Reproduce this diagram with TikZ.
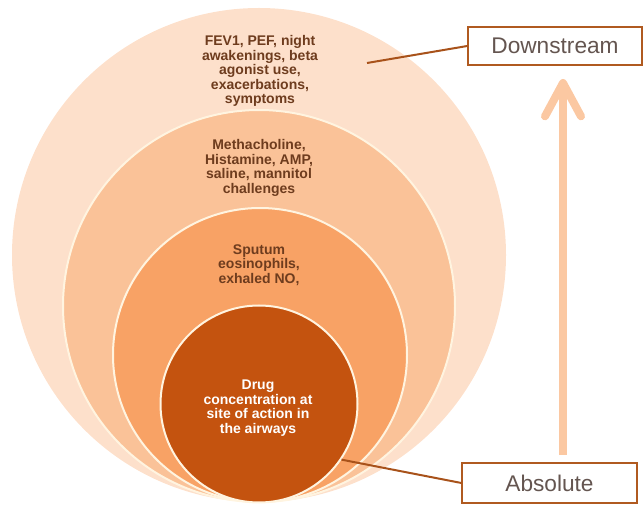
\documentclass[tikz,border=0pt]{standalone}
\usepackage{fontspec}
\setmainfont{Liberation Sans}
\usetikzlibrary{arrows.meta}
\definecolor{ringA}{HTML}{FDE0CB}
\definecolor{ringB}{HTML}{FAC298}
\definecolor{ringC}{HTML}{F8A265}
\definecolor{ringD}{HTML}{C4530F}
\definecolor{ringedge}{HTML}{FFF4E0}
\definecolor{txtbrown}{HTML}{6E3C1E}
\definecolor{boxedge}{HTML}{B05A20}
\definecolor{linkcol}{HTML}{A8521A}
\definecolor{tagtext}{HTML}{645550}
\definecolor{arrowcol}{HTML}{FBC8A2}

\begin{document}
\begin{tikzpicture}[x=0.75pt,y=0.75pt,
  ring/.style={circle,inner sep=0pt,fill=#1,draw=ringedge,line width=1.5pt},
  ringtext/.style={align=center,inner sep=0pt,text=txtbrown,
    font=\bfseries\fontsize{10.5}{10.9}\selectfont},
  tagbox/.style={draw=boxedge,line width=1.1pt,fill=white,inner sep=0pt,
    minimum width=130.5pt,minimum height=28.5pt,text=tagtext,
    font=\fontsize{17}{20}\selectfont},
  link/.style={draw=linkcol,line width=1.5pt}]
\useasboundingbox (0,0) rectangle (643,504);
\node[ring=ringA,draw=none,minimum size=370.5pt] (outer) at (259,249) {};
\node[ring=ringB,minimum size=294pt] (challenge) at (259,198) {};
\node[ring=ringC,minimum size=220.5pt] (sputum) at (260,149) {};
\node[ring=ringD,minimum size=147.75pt] (drug) at (259,100) {};
\node[ringtext] (outertext) at (260,433) {FEV1, PEF, night\\awakenings, beta\\agonist use,\\exacerbations,\\symptoms};
\node[ringtext] (challengetext) at (259,336) {Methacholine,\\Histamine, AMP,\\saline, mannitol\\challenges};
\node[ringtext] (sputumtext) at (259,239) {Sputum\\eosinophils,\\exhaled NO,};
\node[ringtext,text=white] (drugtext) at (258,96) {Drug\\concentration at\\site of action in\\the airways};
\node[tagbox] (downstream) at (555,458) {Downstream};
\node[tagbox,minimum width=131pt,minimum height=30pt] (absolute) at (549.5,21) {Absolute};
\coordinate (dsend) at (367,441);
\coordinate (arrowfoot) at (563,49);
\coordinate (arrowtop) at (563,425);
\draw[link] (dsend) -- (downstream.west);
\draw[link] (drug.-34) -- (absolute.west);
\draw[arrowcol,line width=6pt,-{Straight Barb[length=25pt,width=27pt,round]}] (arrowfoot) -- (arrowtop);
\end{tikzpicture}
\end{document}
